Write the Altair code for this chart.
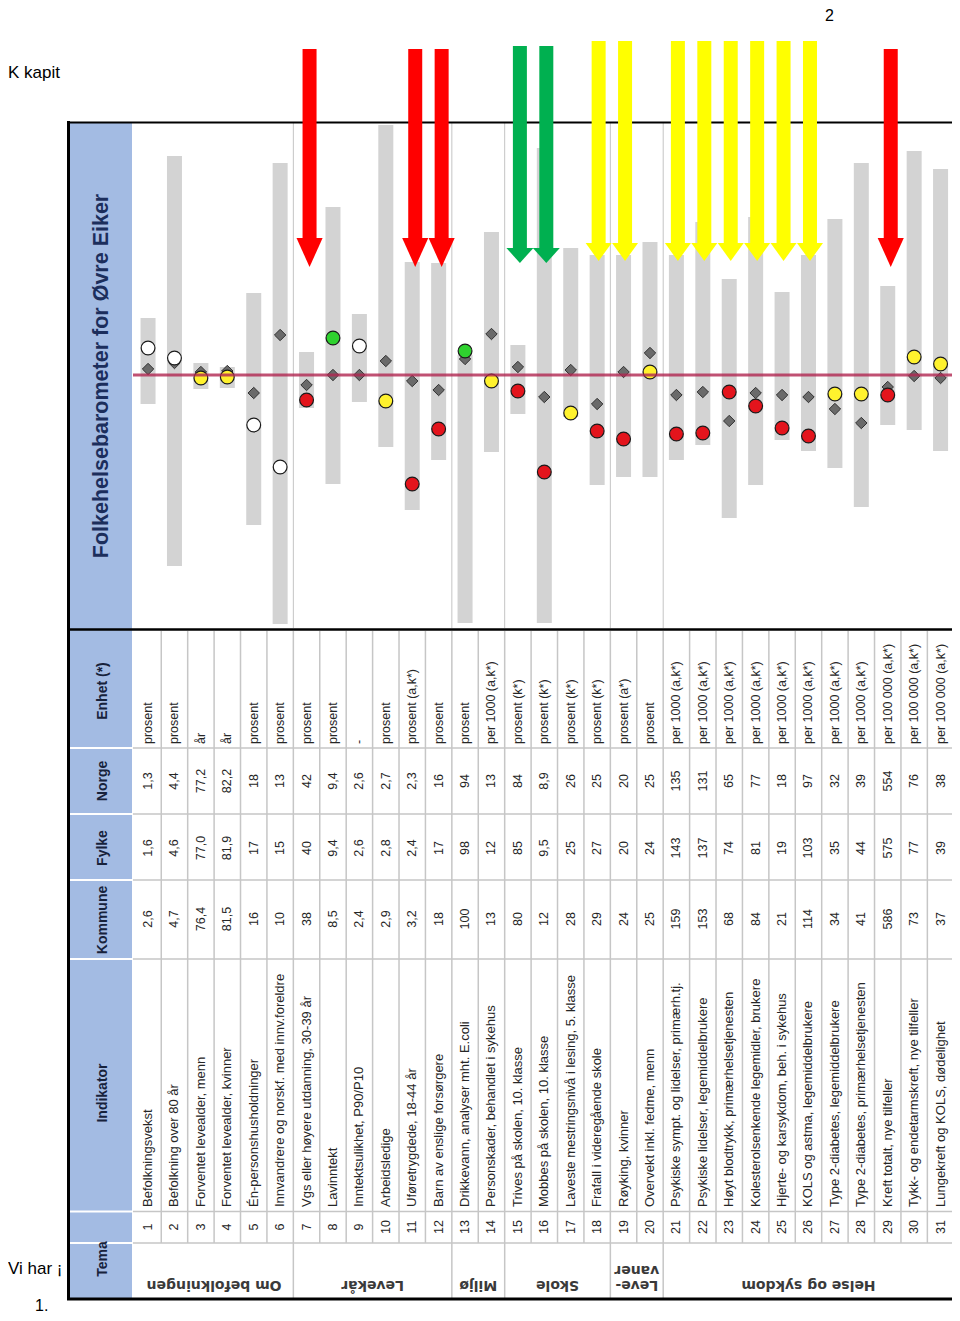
import altair as alt
import pandas as pd

# ---------------- data ----------------
indikator = [
    "Befolkningsvekst",
    "Befolkning over 80 år",
    "Forventet levealder, menn",
    "Forventet levealder, kvinner",
    "Én-personshusholdninger",
    "Innvandrere og norskf. med innv.foreldre",
    "Vgs eller høyere utdanning, 30-39 år",
    "Lavinntekt",
    "Inntektsulikhet, P90/P10",
    "Arbeidsledige",
    "Uføretrygdede, 18-44 år",
    "Barn av enslige forsørgere",
    "Drikkevann, analyser mht. E.coli",
    "Personskader, behandlet i sykehus",
    "Trives på skolen, 10. klasse",
    "Mobbes på skolen, 10. klasse",
    "Laveste mestringsnivå i lesing, 5. klasse",
    "Frafall i videregående skole",
    "Røyking, kvinner",
    "Overvekt inkl. fedme, menn",
    "Psykiske sympt. og lidelser, primærh.tj.",
    "Psykiske lidelser, legemiddelbrukere",
    "Høyt blodtrykk, primærhelsetjenesten",
    "Kolesterolsenkende legemidler, brukere",
    "Hjerte- og karsykdom, beh. i sykehus",
    "KOLS og astma, legemiddelbrukere",
    "Type 2-diabetes, legemiddelbrukere",
    "Type 2-diabetes, primærhelsetjenesten",
    "Kreft totalt, nye tilfeller",
    "Tykk- og endetarmskreft, nye tilfeller",
    "Lungekreft og KOLS, dødelighet",
]
kommune = ["2,6", "4,7", "76,4", "81,5", "16", "10", "38", "8,5", "2,4", "2,9", "3,2", "18",
           "100", "13", "80", "12", "28", "29", "24", "25", "159", "153", "68", "84", "21",
           "114", "34", "41", "586", "73", "37"]
fylke = ["1,6", "4,6", "77,0", "81,9", "17", "15", "40", "9,4", "2,6", "2,8", "2,4", "17",
         "98", "12", "85", "9,5", "25", "27", "20", "24", "143", "137", "74", "81", "19",
         "103", "35", "44", "575", "77", "39"]
norge = ["1,3", "4,4", "77,2", "82,2", "18", "13", "42", "9,4", "2,6", "2,7", "2,3", "16",
         "94", "13", "84", "8,9", "26", "25", "20", "25", "135", "131", "65", "77", "18",
         "97", "32", "39", "554", "76", "38"]
enhet = (["prosent", "prosent", "år", "år", "prosent", "prosent", "prosent", "prosent", "-",
          "prosent", "prosent (a,k*)", "prosent", "prosent", "per 1000 (a,k*)",
          "prosent (k*)", "prosent (k*)", "prosent (k*)", "prosent (k*)", "prosent (a*)",
          "prosent"]
         + ["per 1000 (a,k*)"] * 8 + ["per 100 000 (a,k*)"] * 3)

# barometer values (standardised, Norge = 0, up = better)
bar_hoy = [0.57, 2.19, 0.12, 0.08, 0.82, 2.12, 0.23, 1.68, 0.61, 2.50, 1.13, 1.12, 0.20,
           1.43, 0.30, 2.27, 1.27, 1.20, 1.20, 1.33, 1.20, 1.53, 0.96, 1.58, 0.83, 1.20,
           1.56, 2.12, 0.89, 2.24, 2.06]
bar_lav = [-0.29, -1.91, -0.14, -0.13, -1.50, -2.49, -0.33, -1.09, -0.27, -0.72, -1.35,
           -0.85, -2.48, -0.77, -0.39, -2.48, -0.42, -1.10, -1.02, -1.02, -0.85, -0.70,
           -1.43, -1.10, -0.65, -0.76, -0.93, -1.32, -0.50, -0.55, -0.76]
fylke_verdi = [0.06, 0.12, 0.03, 0.04, -0.18, 0.40, -0.10, 0.00, 0.00, 0.14, -0.06, -0.15,
               0.16, 0.41, 0.08, -0.22, 0.05, -0.29, 0.03, 0.22, -0.20, -0.17, -0.46,
               -0.18, -0.20, -0.22, -0.34, -0.48, -0.12, -0.01, -0.03]
kommune_verdi = [0.27, 0.17, -0.03, -0.02, -0.50, -0.92, -0.25, 0.37, 0.29, -0.26, -1.09,
                 -0.54, 0.24, -0.06, -0.16, -0.97, -0.38, -0.56, -0.64, 0.03, -0.59, -0.58,
                 -0.17, -0.31, -0.53, -0.61, -0.19, -0.19, -0.20, 0.18, 0.11]
farge = ["hvit", "hvit", "gul", "gul", "hvit", "hvit", "rød", "grønn", "hvit", "gul", "rød",
         "rød", "grønn", "gul", "rød", "rød", "gul", "rød", "rød", "gul", "rød", "rød", "rød",
         "rød", "rød", "rød", "gul", "gul", "rød", "gul", "gul"]

tema_navn = ["Om befolkningen", "Levekår", "Miljø", "Skole", "Leve-\nvaner", "Helse og sykdom"]
tema_fra = [1, 7, 13, 15, 19, 21]
tema_til = [6, 12, 14, 18, 20, 31]

piler_rod = [7, 11, 12, 29]
piler_gronn = [15, 16]
piler_gul = [18, 19, 21, 22, 23, 24, 25, 26]

tittel = "Folkehelsebarometer for Øvre Eiker"

# ---------------- tables ----------------
n = len(indikator)
df = pd.DataFrame({
    "nr": list(range(1, n + 1)),
    "indikator": indikator,
    "kommune": kommune,
    "fylke": fylke,
    "norge": norge,
    "enhet": enhet,
    "hoy": bar_hoy,
    "lav": bar_lav,
    "fylke_v": fylke_verdi,
    "kommune_v": kommune_verdi,
    "farge": farge,
})
tema_df = pd.DataFrame({
    "tema": tema_navn,
    "midt": [(a + b) / 2 for a, b in zip(tema_fra, tema_til)],
})
skiller = [b + 0.5 for b in tema_til[:-1]]
rad_grenser = [i + 0.5 for i in range(1, n + 1)]

W, H = 944, 1305
STEP = 26.7
X0 = -4.1124
X = alt.Scale(domain=[X0, X0 + W / STEP], nice=False, zero=False)
Y = alt.Scale(domain=[-9.38, 3.67], nice=False, zero=False)
FONT = "Liberation Sans, Arial, sans-serif"


def xq(f):
    return alt.X(f, type="quantitative", scale=X, axis=None)


def yq(f):
    return alt.Y(f, type="quantitative", scale=Y, axis=None)


one = pd.DataFrame({"k": [0]})


def hline(y, x1, x2, color, w):
    return alt.Chart(one).mark_rule(color=color, strokeWidth=w).encode(
        x=alt.value(x1), x2=alt.value(x2), y=alt.value(y))


def vline(x, y1, y2, color, w):
    return alt.Chart(one).mark_rule(color=color, strokeWidth=w).encode(
        x=alt.value(x), y=alt.value(y1), y2=alt.value(y2))


def label(txt, x, y, **kw):
    return alt.Chart(pd.DataFrame({"t": [txt]})).mark_text(**kw).encode(
        text="t:N", x=alt.value(x), y=alt.value(y))


layers = []

# blue title / header column
layers.append(alt.Chart(one).mark_rect(color="#A3BBE3").encode(
    x=alt.value(62), x2=alt.value(124), y=alt.value(115), y2=alt.value(1290)))

# grey spread bars
layers.append(alt.Chart(df).mark_bar(color="#D3D3D3", orient="vertical", size=15).encode(
    x=xq("nr"), y=yq("lav"), y2="hoy:Q"))

# group separators in chart panel
layers.append(alt.Chart(pd.DataFrame({"s": skiller})).mark_rule(
    color="#C4C4C4", strokeWidth=1).encode(x=xq("s"), y=alt.value(115), y2=alt.value(620)))

# table grid
layers.append(alt.Chart(pd.DataFrame({"g": rad_grenser})).mark_rule(
    color="#C6C6C6", strokeWidth=1.5).encode(x=xq("g"), y=alt.value(623), y2=alt.value(1235)))
layers.append(alt.Chart(pd.DataFrame({"s": skiller})).mark_rule(
    color="#C6C6C6", strokeWidth=1.5).encode(x=xq("s"), y=alt.value(1235), y2=alt.value(1290)))
for yy in [740, 806, 872, 951, 1203.5, 1235]:
    layers.append(hline(yy, 125, W, "#C6C6C6", 1.5))
    layers.append(hline(yy, 62, 124, "#FFFFFF", 2))

# table text
txt = dict(font=FONT, fontSize=12.5, angle=270, color="#262626", baseline="middle")
layers.append(alt.Chart(df).mark_text(align="center", **txt).encode(
    x=xq("nr"), y=alt.value(1219), text="nr:N"))
layers.append(alt.Chart(df).mark_text(align="left", **{**txt, "fontSize": 13}).encode(
    x=xq("nr"), y=alt.value(1199), text="indikator:N"))
layers.append(alt.Chart(df).mark_text(align="center", **txt).encode(
    x=xq("nr"), y=alt.value(911), text="kommune:N"))
layers.append(alt.Chart(df).mark_text(align="center", **txt).encode(
    x=xq("nr"), y=alt.value(840), text="fylke:N"))
layers.append(alt.Chart(df).mark_text(align="center", **txt).encode(
    x=xq("nr"), y=alt.value(773), text="norge:N"))
layers.append(alt.Chart(df).mark_text(align="left", **txt).encode(
    x=xq("nr"), y=alt.value(736), text="enhet:N"))

# tema labels
layers.append(alt.Chart(tema_df).mark_text(
    font="DejaVu Sans, sans-serif", fontSize=14, fontWeight="bold", angle=180,
    color="#3A3A3A", align="center", baseline="middle", lineBreak="\n", lineHeight=15
).encode(x=xq("midt"), y=alt.value(1277), text="tema:N"))

# fylke diamonds
layers.append(alt.Chart(df).mark_point(
    shape="diamond", filled=True, size=130, fill="#6A6A6A", stroke="#333333",
    strokeWidth=1, opacity=1).encode(x=xq("nr"), y=yq("fylke_v")))

# kommune circles
layers.append(alt.Chart(df).mark_point(
    shape="circle", filled=True, size=190, stroke="#1A1A1A", strokeWidth=1.2, opacity=1
).encode(
    x=xq("nr"), y=yq("kommune_v"),
    fill=alt.Fill("farge:N", scale=alt.Scale(
        domain=["rød", "gul", "grønn", "hvit"],
        range=["#E3141C", "#FFF22E", "#2FD22F", "#FFFFFF"]), legend=None)))

# national reference line
layers.append(alt.Chart(one).mark_rule(color="#B02650", strokeWidth=3, opacity=0.8).encode(
    y=alt.YDatum(0, scale=Y), x=alt.value(125), x2=alt.value(W)))

# black frame
layers.append(vline(60.5, 113, 1292, "#000000", 3))
layers.append(hline(114.5, 59, W, "#000000", 2))
layers.append(hline(621.5, 59, W, "#000000", 2.5))
layers.append(hline(1291, 59, W, "#000000", 3))


# arrows
def arrows(lst, color, top, head_start, head_y, path, size, dx):
    d = pd.DataFrame({"p": lst})
    shaft = alt.Chart(d).mark_rule(color=color, strokeWidth=14, xOffset=dx).encode(
        x=xq("p"), y=alt.value(top), y2=alt.value(head_start))
    head = alt.Chart(d).mark_point(shape=path, filled=True, fill=color, size=size,
                                   opacity=1, strokeWidth=0, xOffset=dx).encode(
        x=xq("p"), y=alt.value(head_y))
    return [shaft, head]


layers += arrows(piler_rod, "#FF0000", 41, 232, 244.5, "M-0.9,-1L0.9,-1L0,1Z", 841, 3)
layers += arrows(piler_gronn, "#00B050", 38, 241, 247.5, "M-1,-0.556L1,-0.556L0,0.556Z", 729, 2)
layers += arrows(piler_gul, "#FFFF00", 33, 237, 244, "M-1,-0.69L1,-0.69L0,0.69Z", 676, 1.5)

# title and header labels
layers.append(label(tittel, 94, 368, font=FONT, fontSize=21.5, fontWeight="bold", angle=270,
                    color="#1C2E5C", align="center", baseline="middle"))
for t, yy in [("Enhet (*)", 683), ("Norge", 773), ("Fylke", 840), ("Kommune", 912),
              ("Indikator", 1085), ("Tema", 1251)]:
    layers.append(label(t, 94.5, yy, font=FONT, fontSize=14, fontWeight="bold", angle=270,
                        color="#17223B", align="center", baseline="middle"))

# page fragments around the picture
layers.append(label("K kapit", 0, 70, font=FONT, fontSize=17, color="#000000",
                    align="left", baseline="alphabetic"))
layers.append(label("2", 817, 13, font=FONT, fontSize=16, color="#000000",
                    align="left", baseline="alphabetic"))
layers.append(label("Vi har ¡", 0, 1266, font=FONT, fontSize=17, color="#000000",
                    align="left", baseline="alphabetic"))
layers.append(label("1.", 27, 1303, font=FONT, fontSize=16, color="#000000",
                    align="left", baseline="alphabetic"))

chart = alt.layer(*layers).properties(
    width=W, height=H, padding=0, autosize=alt.AutoSizeParams(type="none")
).configure_view(strokeWidth=0)

chart.save("out.html", embed_options={"renderer": "svg", "actions": False})
